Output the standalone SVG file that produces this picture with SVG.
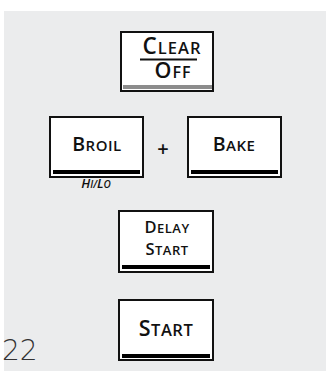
<svg xmlns="http://www.w3.org/2000/svg" width="326" height="371" viewBox="0 0 326 371">
<style>
.box{fill:#fff;stroke:#111;stroke-width:2}
.bar{fill:#000}
.lbl{font-family:"Open Sans","Liberation Sans",Arial,sans-serif;font-weight:600;fill:#111;text-anchor:middle}
.note{font-family:"Open Sans","Liberation Sans",Arial,sans-serif;font-style:italic;font-weight:600;fill:#111;text-anchor:middle}
</style>
<rect x="4" y="11" width="322" height="360" fill="#ebeced"/>
<g id="clear-off">
<rect class="box" x="121" y="32" width="92" height="59"/>
<rect x="123" y="85" width="89" height="4" fill="#8c8c8c"/>
<line x1="140" y1="59.5" x2="197" y2="59.5" stroke="#111" stroke-width="1.8"/>
<text class="lbl" x="172" y="54" style="letter-spacing:1px"><tspan font-size="22.5">C</tspan><tspan font-size="16.5">LEAR</tspan></text>
<text class="lbl" x="173" y="78" style="letter-spacing:1px"><tspan font-size="21.5">O</tspan><tspan font-size="16">FF</tspan></text>
</g>
<g id="broil">
<rect class="box" x="50" y="117" width="93" height="60"/>
<rect class="bar" x="53" y="170" width="87" height="4"/>
<text class="lbl" x="97" y="151" style="letter-spacing:0.5px"><tspan font-size="19.5">B</tspan><tspan font-size="15">ROIL</tspan></text>
<text class="note" x="96" y="188"><tspan font-size="13">H</tspan><tspan font-size="10">I/</tspan><tspan font-size="13">L</tspan><tspan font-size="10">O</tspan></text>
</g>
<g id="plus">
<text class="lbl" x="163" y="156" font-size="20" font-weight="bold">+</text>
</g>
<g id="bake">
<rect class="box" x="188" y="117" width="93" height="60"/>
<rect class="bar" x="191" y="170" width="87" height="4"/>
<text class="lbl" x="234" y="151" style="letter-spacing:0.5px"><tspan font-size="19.5">B</tspan><tspan font-size="15">AKE</tspan></text>
</g>
<g id="delay-start">
<rect class="box" x="119" y="211" width="94" height="61"/>
<rect class="bar" x="122" y="265" width="88" height="4"/>
<text class="lbl" x="167" y="233" style="letter-spacing:0.5px"><tspan font-size="16.5">D</tspan><tspan font-size="13">ELAY</tspan></text>
<text class="lbl" x="167" y="255" style="letter-spacing:0.5px"><tspan font-size="16.5">S</tspan><tspan font-size="13">TART</tspan></text>
</g>
<g id="start">
<rect class="box" x="119" y="300" width="94" height="60"/>
<rect class="bar" x="122" y="354" width="88" height="4"/>
<text class="lbl" x="166" y="336" style="letter-spacing:0.5px"><tspan font-size="21.5">S</tspan><tspan font-size="16.5">TART</tspan></text>
</g>
<text x="2" y="360" font-family="'DejaVu Sans',sans-serif" font-size="28" fill="#333" font-weight="300">22</text>
</svg>
